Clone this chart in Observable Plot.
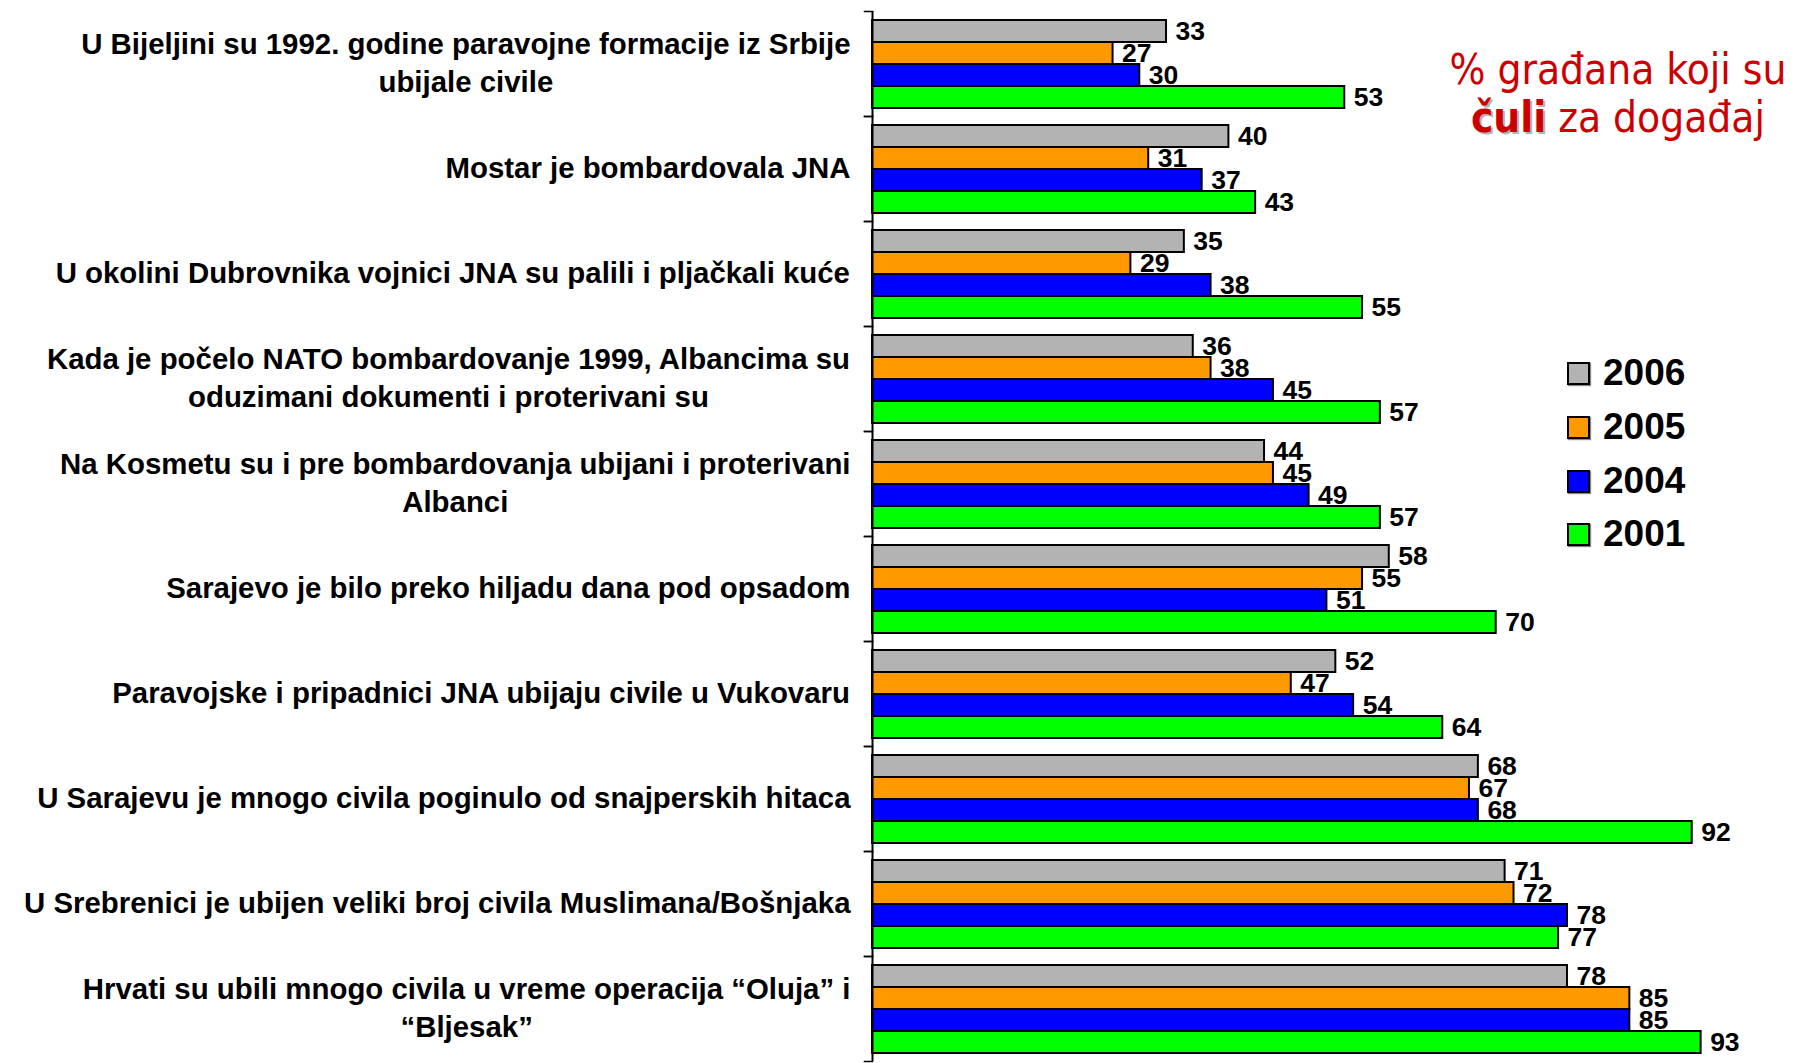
<!DOCTYPE html>
<html>
<head>
<meta charset="utf-8">
<script src="https://cdn.jsdelivr.net/npm/d3@7"></script>
<script src="https://cdn.jsdelivr.net/npm/@observablehq/plot@0.6"></script>
<style>
  html, body { margin: 0; padding: 0; background: #fff; }
  #wrap { position: relative; width: 1799px; height: 1063px; overflow: hidden; }
  #chart svg { display: block; }
  #title {
    position: absolute; left: 1398px; width: 440px; top: 46px;
    text-align: center; color: #CC0000;
    font-family: "DejaVu Sans Condensed", "DejaVu Sans", sans-serif; font-stretch: condensed;
    font-size: 42px; line-height: 48px; white-space: nowrap;
  }
  #title b { text-shadow: 2px 2px 0 #b4b4b4; }
  .lg { position: absolute; left: 1567px; height: 50px; display: flex; align-items: center;
        font-family: "Liberation Sans", Arial, sans-serif; font-weight: bold; font-size: 37px; color: #000; }
  .lg .sw { width: 19px; height: 19px; border: 2px solid #000; box-shadow: 1px 1px 1px #888; margin-right: 13px; }
</style>
</head>
<body>
<div id="wrap">
  <div id="chart"></div>
  <div id="title">% građana koji su<br><b>čuli</b> za događaj</div>
  <div id="legend"></div>
</div>
<script>
const categories = [
  "U Bijeljini su 1992. godine paravojne formacije iz Srbije\nubijale civile",
  "Mostar je bombardovala JNA",
  "U okolini Dubrovnika vojnici JNA su palili i pljačkali kuće",
  "Kada je počelo NATO bombardovanje 1999, Albancima su\noduzimani dokumenti i proterivani su",
  "Na Kosmetu su i pre bombardovanja ubijani i proterivani\nAlbanci",
  "Sarajevo je bilo preko hiljadu dana pod opsadom",
  "Paravojske i pripadnici JNA ubijaju civile u Vukovaru",
  "U Sarajevu je mnogo civila poginulo od snajperskih hitaca",
  "U Srebrenici je ubijen veliki broj civila Muslimana/Bošnjaka",
  "Hrvati su ubili mnogo civila u vreme operacija “Oluja” i\n“Bljesak”"
];
const years = ["2006", "2005", "2004", "2001"];
const v2006 = [33, 40, 35, 36, 44, 58, 52, 68, 71, 78];
const v2005 = [27, 31, 29, 38, 45, 55, 47, 67, 72, 85];
const v2004 = [30, 37, 38, 45, 49, 51, 54, 68, 78, 85];
const v2001 = [53, 43, 55, 57, 57, 70, 64, 92, 77, 93];
const colors = ["#B3B3B3", "#FF9900", "#0000FF", "#00FF00"];

const series = {"2006": v2006, "2005": v2005, "2004": v2004, "2001": v2001};
const rows = [];
categories.forEach((c, i) => years.forEach(y => rows.push({category: c, year: y, value: series[y][i]})));

const W = 1799, H = 1063, mL = 872, mR = 36, mT = 9, mB = 1;
const labelSize = 29.4;
const ctx = document.createElement("canvas").getContext("2d");
ctx.font = `bold ${labelSize}px 'Liberation Sans'`;
const gap = 22;

const labelMarks = categories.map(c => {
  const w = d3.max(c.split("\n"), s => ctx.measureText(s).width);
  return Plot.text([c], {
    fy: d => d, text: d => d, frameAnchor: "left", textAnchor: "middle",
    dx: -(gap + w / 2), dy: -3.5, lineHeight: 1.29,
    fontSize: labelSize, fontWeight: "bold", fontFamily: "Liberation Sans, Arial, sans-serif", fill: "#000"
  });
});

const plot = Plot.plot({
  width: W, height: H,
  marginLeft: mL, marginRight: mR, marginTop: mT, marginBottom: mB,
  style: {background: "#fff", overflow: "visible"},
  x: {domain: [0, 100], axis: null},
  y: {domain: years, paddingInner: 0, paddingOuter: 0.342, axis: null},
  fy: {domain: categories, padding: 0, axis: null},
  color: {domain: years, range: colors},
  marks: [
    Plot.barX(rows, {fy: "category", y: "year", x: "value", fill: "year", stroke: "#000", strokeWidth: 2}),
    Plot.text(rows, {fy: "category", y: "year", x: "value", text: d => String(d.value), dx: 9, textAnchor: "start",
      fontSize: 26.5, fontWeight: "bold", fontFamily: "Liberation Sans, Arial, sans-serif", fill: "#000"}),
    Plot.ruleX([0], {stroke: "#000", strokeWidth: 2}),
    Plot.frame({anchor: "top", insetLeft: -8, insetRight: W - mL - mR, stroke: "#000", strokeWidth: 1.5}),
    Plot.frame({anchor: "bottom", insetLeft: -8, insetRight: W - mL - mR, stroke: "#000", strokeWidth: 1.5}),
    ...labelMarks
  ]
});
document.getElementById("chart").appendChild(plot);

const centers = [373, 427, 481, 534];
const legend = document.getElementById("legend");
years.forEach((y, i) => {
  const row = document.createElement("div");
  row.className = "lg";
  row.style.top = (centers[i] - 25) + "px";
  row.innerHTML = `<span class="sw" style="background:${colors[i]}"></span><span>${y}</span>`;
  legend.appendChild(row);
});
</script>
</body>
</html>
